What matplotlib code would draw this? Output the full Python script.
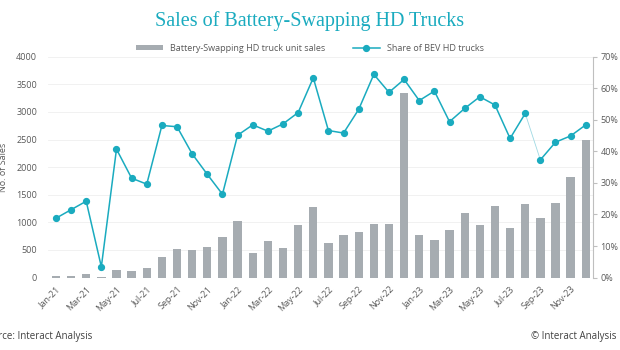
import matplotlib
matplotlib.use("Agg")
import matplotlib.pyplot as plt
import numpy as np

plt.rcParams['font.family'] = ['Open Sans', 'DejaVu Sans']

# monthly data, Jan-21 .. Dec-23
months = [f"{m}-{y}" for y in ("21", "22", "23")
          for m in ("Jan", "Feb", "Mar", "Apr", "May", "Jun",
                    "Jul", "Aug", "Sep", "Oct", "Nov", "Dec")]
sales = [30, 20, 66, 5, 139, 127, 169, 380, 519, 495, 561, 736,
         1026, 452, 664, 543, 947, 1285, 627, 766, 832, 971, 965, 3341,
         772, 681, 862, 1164, 953, 1296, 892, 1333, 1073, 1351, 1815, 2496]
share = [18.8, 21.5, 24.2, 3.4, 40.7, 31.5, 29.6, 48.2, 47.8, 39.2, 32.7, 26.4,
         45.1, 48.4, 46.4, 48.7, 52.3, 63.3, 46.6, 45.8, 53.3, 64.4, 58.7, 62.8,
         56.1, 59.1, 49.4, 53.6, 57.3, 54.7, 44.1, 52.0, 37.3, 42.9, 44.9, 48.4]
left_ticks = [0, 500, 1000, 1500, 2000, 2500, 3000, 3500, 4000]
right_ticks = [0, 10, 20, 30, 40, 50, 60, 70]

teal = '#1aabbf'
bar_col = '#a6acb1'
txt = '#595959'

fig = plt.figure(figsize=(6.2, 3.5), dpi=100)
ax = fig.add_axes([0.078, 0.207, 0.879, 0.631])
x = np.arange(len(months))

bars = ax.bar(x, sales, width=0.55, color=bar_col, zorder=2,
              label='Battery-Swapping HD truck unit sales')
ax.set_ylim(0, 4000)
ax.set_xlim(-0.5, len(months) - 0.5)
ax.set_yticks(left_ticks)
ax.grid(axis='y', color='#efefef', linewidth=0.6, zorder=0)
for s in ax.spines.values():
    s.set_visible(False)
ax.tick_params(axis='y', length=0, labelsize=6.5, labelcolor=txt, pad=8)
ax.set_xticks(x[::2])
ax.set_xticklabels(months[::2], rotation=45, ha='right', rotation_mode='anchor')
ax.tick_params(axis='x', length=0, labelsize=6.5, labelcolor=txt, pad=5)

ax2 = ax.twinx()
ax2.set_ylim(0, 70)
ax2.set_yticks(right_ticks)
ax2.set_yticklabels([f"{t}%" for t in right_ticks])
for s in ('top', 'left', 'bottom'):
    ax2.spines[s].set_visible(False)
ax2.spines['right'].set_color('#bfbfbf')
ax2.spines['right'].set_linewidth(0.8)
ax2.tick_params(axis='y', length=3, color='#bfbfbf', labelsize=6.5, labelcolor=txt, pad=2)

# the Aug-23 -> Sep-23 link is drawn thin and pale
gap = months.index('Aug-23')
ax2.plot(x[:gap + 1], share[:gap + 1], color=teal, lw=1.1, marker='o', ms=4.2,
         zorder=3, label='Share of BEV HD trucks')
ax2.plot(x[gap:gap + 2], share[gap:gap + 2], color='#9fd9e3', lw=0.6, zorder=2)
ax2.plot(x[gap + 1:], share[gap + 1:], color=teal, lw=1.1, marker='o', ms=4.2, zorder=3)

h1, l1 = ax.get_legend_handles_labels()
h2, l2 = ax2.get_legend_handles_labels()
fig.legend(h1 + h2, l1 + l2, loc='center', bbox_to_anchor=(0.5, 0.862), ncol=2,
           frameon=False, fontsize=6.5, labelcolor=txt, handlelength=3,
           columnspacing=3, handleheight=0.5)

fig.text(0.5, 0.94, 'Sales of Battery-Swapping HD Trucks', ha='center', va='center',
         fontsize=14.5, color=teal, family='Liberation Serif')
fig.text(0.006, 0.522, 'No. of Sales', rotation=90, fontsize=6.5, color=txt,
         ha='center', va='center')
fig.text(-0.03, 0.04, 'Source: Interact Analysis', fontsize=7, color='#404040', va='center')
fig.text(0.995, 0.04, '© Interact Analysis', fontsize=7, color='#404040',
         va='center', ha='right')

fig.savefig('out.png', dpi=100)
